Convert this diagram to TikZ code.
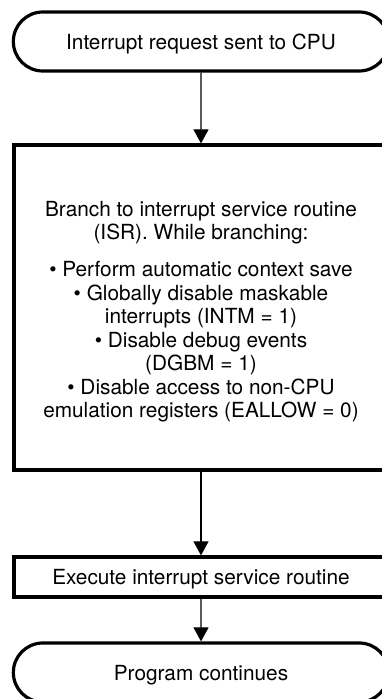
\documentclass[tikz,border=0pt]{standalone}
\usepackage{fontspec}
\setmainfont{TeX Gyre Heros}
\usepackage{tikz}
\usetikzlibrary{arrows.meta, shapes.misc}

\begin{document}
\begin{tikzpicture}[x=1pt, y=-1pt, >={Triangle[width=15pt, length=14pt]},
                        every node/.style={font=\fontsize{20.8}{23.5}\selectfont},
                        oneline/.style={text height=15pt, text depth=0pt},
                        terminal/.style={draw, line width=3.2pt, rounded rectangle, oneline, minimum width=382pt, minimum height=59pt},
                        process/.style={draw, line width=3.2pt, rectangle, minimum width=374pt}]
                        \useasboundingbox (0, 0) rectangle (382, 699);
                        \node[terminal] (request) at (201, 41.5) {Interrupt request sent to CPU};
                        \node[process, minimum height=325pt, align=center] (branch) at (201, 307.5)
                        {\rule{0pt}{24pt}Branch to interrupt service routine\\
                        (ISR). While branching:\\[13.5pt]
                        \textbullet{} Perform automatic context save\\
                        \textbullet{} Globally disable maskable\\
                        interrupts (INTM = 1)\\
                        \textbullet{} Disable debug events\\
                        (DGBM = 1)\\
                        \textbullet{} Disable access to non-CPU\\
                        emulation registers (EALLOW = 0)};
                        \node[process, oneline, minimum height=40pt] (execute) at (201, 577) {Execute interrupt service routine};
                        \node[terminal] (continues) at (201, 672.5) {Program continues};

                        \draw[line width=1.1pt]
                        (request) edge[->] (branch)
                        (branch) edge[->] (execute)
                        (execute) edge[->] (continues);
                    \end{tikzpicture}
\end{document}
